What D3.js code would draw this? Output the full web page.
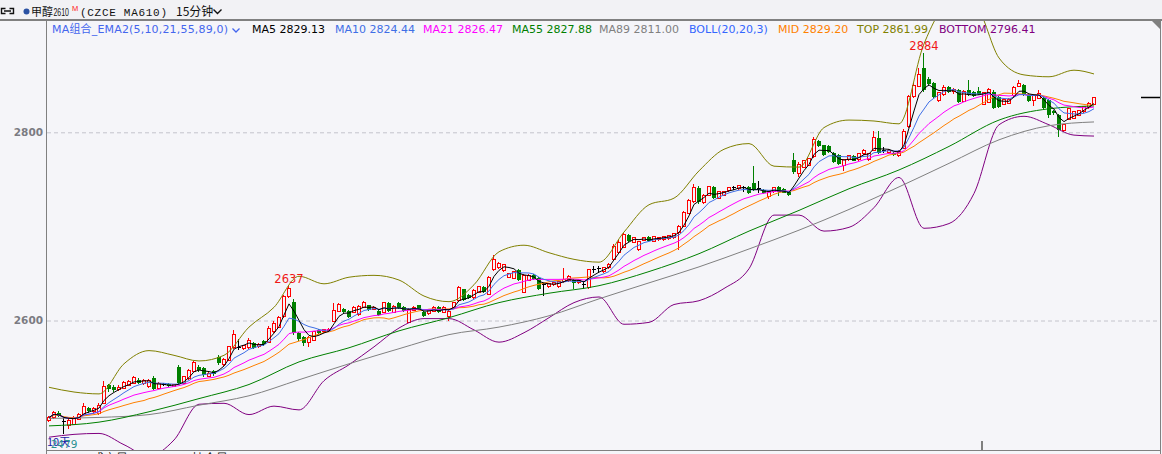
<!DOCTYPE html>
<html>
<head>
<meta charset="utf-8">
<script src="https://cdn.jsdelivr.net/npm/d3@7"></script>
<style>
  html, body { margin: 0; padding: 0; background: #f5f5f9; overflow: hidden; }
  svg { display: block; }
</style>
</head>
<body>
<script>
(function(){

  // 甲醇2610 15分钟K线: 开 高 低 收 (每行10根)
  var opens = [
    2494,2497,2502,2493,2488,2490,2495,2500,2507,2503,
    2501,2512,2531,2529,2527,2528,2531,2533,2537,2533,
    2530,2539,2528,2532,2533,2530,2551,2533,2538,2546,
    2551,2550,2541,2546,2561,2553,2558,2571,2571,2570,
    2571,2576,2572,2578,2577,2588,2593,2604,2625,2620,
    2587,2582,2577,2579,2590,2588,2589,2599,2610,2612,
    2610,2609,2606,2614,2616,2612,2610,2609,2619,2609,
    2619,2614,2598,2611,2616,2609,2607,2610,2614,2609,
    2604,2614,2621,2633,2627,2624,2630,2636,2628,2654,
    2656,2653,2646,2645,2654,2630,2643,2648,2645,2638,
    2636,2638,2636,2641,2642,2643,2640,2638,2635,2654,
    2655,2652,2656,2665,2672,2678,2691,2683,2675,2685,
    2689,2684,2686,2686,2687,2688,2694,2700,2714,2726,
    2741,2725,2733,2742,2730,2733,2738,2741,2740,2741,
    2742,2746,2740,2739,2732,2737,2742,2740,2737,2771,
    2756,2763,2765,2774,2791,2786,2785,2778,2776,2765,
    2771,2775,2771,2777,2771,2781,2794,2781,2779,2778,
    2775,2783,2806,2838,2849,2868,2857,2852,2834,2840,
    2848,2843,2845,2833,2845,2843,2844,2830,2832,2843,
    2838,2830,2831,2839,2849,2850,2840,2834,2836,2836,
    2834,2823,2818,2802,2814,2815,2818,2822,2826,2830
  ];
  var highs = [
    2499,2504,2504,2496,2495,2498,2502,2512,2508,2508,
    2512,2536,2533,2531,2531,2536,2537,2541,2539,2538,
    2538,2541,2535,2534,2534,2533,2553,2541,2548,2557,
    2553,2551,2546,2547,2563,2560,2573,2590,2580,2574,
    2581,2577,2576,2579,2594,2599,2605,2627,2637,2623,
    2588,2583,2583,2589,2591,2591,2592,2619,2619,2613,
    2611,2615,2616,2621,2617,2615,2611,2620,2620,2616,
    2620,2615,2613,2615,2617,2610,2612,2615,2615,2615,
    2611,2620,2637,2634,2628,2633,2637,2637,2647,2670,
    2662,2660,2651,2653,2655,2649,2649,2649,2646,2640,
    2640,2641,2642,2656,2648,2644,2643,2641,2655,2658,
    2658,2657,2661,2681,2686,2693,2692,2689,2685,2689,
    2690,2690,2689,2690,2691,2693,2701,2716,2729,2745,
    2743,2734,2743,2743,2738,2738,2742,2743,2744,2743,
    2743,2764,2748,2740,2738,2742,2743,2741,2738,2778,
    2768,2771,2773,2795,2792,2787,2786,2779,2777,2772,
    2776,2776,2778,2782,2778,2801,2801,2784,2782,2779,
    2781,2803,2840,2852,2868,2884,2859,2853,2843,2850,
    2849,2847,2846,2845,2856,2844,2848,2843,2847,2845,
    2839,2836,2836,2849,2856,2851,2841,2840,2845,2837,
    2835,2824,2819,2809,2826,2823,2824,2828,2832,2838
  ];
  var lows = [
    2492,2495,2497,2479,2485,2489,2494,2499,2502,2501,
    2500,2511,2524,2524,2525,2527,2530,2532,2532,2531,
    2528,2526,2527,2530,2529,2529,2532,2531,2537,2545,
    2545,2540,2540,2541,2553,2552,2557,2570,2569,2569,
    2570,2570,2571,2573,2576,2587,2592,2603,2624,2585,
    2578,2573,2572,2578,2586,2587,2588,2598,2609,2608,
    2603,2608,2605,2613,2610,2611,2605,2608,2609,2608,
    2612,2609,2597,2610,2611,2604,2606,2609,2608,2608,
    2600,2613,2620,2621,2623,2623,2629,2629,2627,2653,
    2655,2652,2645,2644,2642,2629,2642,2643,2632,2626,
    2635,2637,2635,2640,2641,2633,2639,2634,2634,2651,
    2651,2651,2655,2664,2671,2677,2683,2682,2674,2684,
    2683,2683,2685,2685,2686,2687,2675,2699,2713,2725,
    2724,2724,2732,2729,2729,2732,2737,2739,2739,2737,
    2734,2738,2736,2734,2729,2736,2732,2735,2732,2756,
    2753,2762,2764,2773,2784,2775,2778,2767,2765,2759,
    2770,2769,2770,2776,2770,2780,2777,2778,2777,2775,
    2774,2782,2805,2836,2848,2843,2849,2836,2832,2839,
    2842,2841,2831,2832,2839,2838,2840,2829,2831,2825,
    2826,2829,2830,2838,2848,2839,2832,2828,2835,2825,
    2815,2818,2795,2800,2813,2814,2817,2821,2825,2829
  ];
  var closes = [
    2497,2502,2499,2493,2494,2496,2500,2509,2504,2506,
    2510,2530,2527,2526,2529,2534,2535,2539,2534,2536,
    2536,2527,2533,2532,2530,2532,2534,2540,2547,2555,
    2547,2542,2544,2543,2555,2559,2572,2585,2571,2573,
    2579,2571,2575,2575,2592,2597,2603,2625,2634,2587,
    2580,2576,2582,2588,2587,2590,2590,2611,2617,2609,
    2604,2614,2615,2619,2611,2614,2606,2619,2610,2615,
    2613,2610,2612,2614,2612,2605,2611,2614,2609,2614,
    2610,2619,2635,2622,2624,2632,2636,2630,2646,2665,
    2661,2659,2650,2652,2643,2648,2648,2644,2633,2638,
    2639,2640,2641,2644,2647,2640,2642,2638,2654,2654,
    2655,2656,2660,2679,2683,2691,2684,2688,2684,2688,
    2684,2689,2688,2689,2690,2692,2700,2715,2727,2741,
    2726,2733,2742,2730,2737,2737,2741,2741,2743,2741,
    2735,2739,2740,2735,2737,2741,2737,2736,2733,2758,
    2766,2770,2772,2792,2785,2776,2779,2768,2766,2771,
    2775,2770,2777,2781,2777,2794,2778,2781,2781,2776,
    2780,2801,2838,2850,2861,2845,2851,2838,2842,2848,
    2843,2845,2832,2843,2840,2839,2841,2842,2846,2826,
    2827,2835,2835,2848,2852,2840,2833,2839,2841,2826,
    2818,2820,2802,2808,2825,2822,2823,2827,2831,2837
  ];

  var maPeriods = [5, 10, 21, 55, 89];

  // 慢均线读数 (每10根)
  var slowIdx = [0,10,20,30,40,50,60,70,80,90,100,110,120,130,140,150,160,170,180,190,200,209];
  var ma55 = [2488,2492,2503,2517,2532,2556,2571,2589,2603,2619,2629,2637,2652,2671,2695,2717,2740,2760,2785,2813,2825,2828];
  var ma89 = [2496,2497,2500,2510,2520,2537,2554,2570,2585,2593,2605,2623,2640,2657,2676,2696,2718,2742,2767,2792,2807,2811];

  // 布林上下轨读数 (每5根)
  var bandIdx = [0,5,10,15,20,25,30,35,40,45,50,55,60,65,70,75,80,85,90,95,100,105,110,115,120,125,130,135,140,145,150,155,160,165,170,175,180,185,190,195,200,205,209];
  var bollTop = [2529,2524,2522,2554,2568,2563,2557,2563,2593,2614,2647,2639,2646,2648,2643,2626,2620,2638,2673,2680,2672,2665,2662,2694,2723,2730,2759,2782,2788,2764,2763,2805,2813,2812,2809,2894,2935,2935,2879,2861,2859,2866,2862];
  var bollBottom = [2476,2479,2480,2468,2456,2473,2511,2512,2500,2509,2505,2536,2553,2572,2592,2602,2602,2590,2577,2587,2603,2619,2625,2596,2598,2617,2621,2634,2655,2712,2712,2695,2699,2720,2752,2698,2703,2735,2808,2817,2808,2797,2796];

  var yTicks = [2600, 2800];
  var peakMarks = [48, 175];
  var dayBreaks = [186];

  var maNames = ["MA5", "MA10", "MA21", "MA55", "MA89"];
  var maValues = ["2829.13", "2824.44", "2826.47", "2827.88", "2811.00"];
  var bollNames = ["MID", "TOP", "BOTTOM"];
  var bollValues = ["2829.20", "2861.99", "2796.41"];

  const W = 1162, H = 454;
  const BG = "#f5f5f9";
  const UP = "#ff0000", DOWN = "#008000", FLAT = "#000000";
  const FRAME = "#808080";
  const MA_COLORS = ["#000000", "#3f6fe6", "#ff00ff", "#008000", "#808080"];
  const BOLL_COLORS = ["#ff8000", "#808000", "#800080"];
  const MA_X = [252, 335, 423, 512, 599];
  const BOLL_X = [778, 857, 939];

  var x = d3.scaleBand().domain(d3.range(closes.length)).range([46.5, 1096.5]);
  var cx = function(i){ return x(i) + x.bandwidth() / 2; };
  var y = d3.scaleLinear().domain([2600, 2800]).range([320.5, 132.3]);

  var svg = d3.select("body").append("svg")
    .attr("width", W).attr("height", H)
    .style("font-family", "'DejaVu Sans', 'Noto Sans CJK SC', sans-serif");

  svg.append("rect").attr("width", W).attr("height", 20).attr("fill", "#f2f2f5");

  svg.append("defs").append("clipPath").attr("id", "plot")
    .append("rect").attr("x", 47).attr("y", 21).attr("width", 1113).attr("height", 429);

  // 网格 + 纵轴
  var grid = svg.append("g").attr("transform", "translate(47,0)")
    .call(d3.axisLeft(y).tickValues(yTicks).tickSize(-1113).tickFormat(""));
  grid.select(".domain").remove();
  grid.selectAll(".tick line")
    .attr("stroke", "#c4c4cc").attr("stroke-dasharray", "4,3");

  var axis = svg.append("g").attr("transform", "translate(43,0)")
    .call(d3.axisLeft(y).tickValues(yTicks).tickSize(0).tickPadding(0).tickFormat(d3.format("d")));
  axis.select(".domain").remove();
  axis.selectAll(".tick text")
    .attr("fill", "#7b7b82").attr("font-size", "10.5px").attr("font-weight", "bold")
    .attr("font-family", "'DejaVu Sans', sans-serif");

  var plot = svg.append("g").attr("clip-path", "url(#plot)");

  // K线
  var candles = plot.append("g").attr("shape-rendering", "crispEdges")
    .selectAll("g").data(d3.range(closes.length)).enter().append("g");

  candles.append("line")
    .attr("x1", function(i){ return cx(i) - 0.5; })
    .attr("x2", function(i){ return cx(i) - 0.5; })
    .attr("y1", function(i){ return y(highs[i]); })
    .attr("y2", function(i){ return y(lows[i]); })
    .attr("stroke", function(i){ return closes[i] > opens[i] ? UP : closes[i] < opens[i] ? DOWN : FLAT; });

  candles.filter(function(i){ return closes[i] > opens[i]; }).append("rect")
    .attr("x", function(i){ return cx(i) - 1.5; })
    .attr("width", 3)
    .attr("y", function(i){ return y(closes[i]); })
    .attr("height", function(i){ return Math.max(1, y(opens[i]) - y(closes[i])); })
    .attr("fill", BG).attr("stroke", UP);

  candles.filter(function(i){ return closes[i] < opens[i]; }).append("rect")
    .attr("x", function(i){ return cx(i) - 2; })
    .attr("width", 4)
    .attr("y", function(i){ return y(opens[i]); })
    .attr("height", function(i){ return Math.max(1, y(closes[i]) - y(opens[i])); })
    .attr("fill", DOWN);

  candles.filter(function(i){ return closes[i] === opens[i]; }).append("line")
    .attr("x1", function(i){ return cx(i) - 2.5; })
    .attr("x2", function(i){ return cx(i) + 2; })
    .attr("y1", function(i){ return y(closes[i]); })
    .attr("y2", function(i){ return y(closes[i]); })
    .attr("stroke", FLAT);

  // 指标线: 加权均线 + 布林中轨
  function wma(vals, n){
    return vals.map(function(v, i){
      var s = 0, w = 0;
      for (var j = Math.max(0, i - n + 1), k = 1; j <= i; j++, k++){ s += vals[j] * k; w += k; }
      return s / w;
    });
  }
  var mid = closes.map(function(c, i){ return d3.mean(closes.slice(Math.max(0, i - 19), i + 1)); });

  var barLine = d3.line().x(function(d, i){ return cx(i); }).y(function(d){ return y(d); });
  var sampledLine = function(idx){
    return d3.line().curve(d3.curveMonotoneX)
      .x(function(d, k){ return cx(idx[k]); }).y(function(d){ return y(d); });
  };

  var lines = plot.append("g").attr("fill", "none").attr("stroke-width", 1);
  lines.append("path").attr("d", sampledLine(bandIdx)(bollTop)).attr("stroke", BOLL_COLORS[1]);
  lines.append("path").attr("d", sampledLine(bandIdx)(bollBottom)).attr("stroke", BOLL_COLORS[2]);
  lines.append("path").attr("d", sampledLine(slowIdx)(ma89)).attr("stroke", MA_COLORS[4]);
  lines.append("path").attr("d", sampledLine(slowIdx)(ma55)).attr("stroke", MA_COLORS[3]);
  lines.append("path").attr("d", barLine(mid)).attr("stroke", BOLL_COLORS[0]);
  [2, 1, 0].forEach(function(k){
    lines.append("path").attr("d", barLine(wma(closes, maPeriods[k])))
      .attr("stroke", MA_COLORS[k]);
  });

  // 最高/最低标注
  var loIdx = d3.minIndex(lows);
  svg.selectAll("text.hi").data(peakMarks).enter().append("text")
    .attr("x", function(i){ return cx(i); })
    .attr("y", function(i){ return y(highs[i]) - 3; })
    .attr("text-anchor", "middle").attr("font-size", "11.5px").attr("fill", "#f01818")
    .text(function(i){ return highs[i]; });
  svg.append("text").attr("x", 47).attr("y", 446)
    .attr("font-size", "11px").attr("fill", "#1c1ca8")
    .attr("font-family", "'Noto Sans CJK SC', 'DejaVu Sans', sans-serif").text("10天");
  svg.append("text").attr("x", cx(loIdx)).attr("y", y(lows[loIdx]) + 14)
    .attr("text-anchor", "middle").attr("font-size", "10.5px").attr("fill", "#2a9090")
    .text(lows[loIdx]);

  // 框线
  var frame = svg.append("g").attr("stroke", FRAME).attr("shape-rendering", "crispEdges");
  frame.append("line").attr("x1", 0).attr("x2", W).attr("y1", 20).attr("y2", 20).attr("stroke-width", 2);
  frame.append("line").attr("x1", 46.5).attr("x2", 46.5).attr("y1", 21).attr("y2", H).attr("stroke-width", 1.5);
  frame.append("line").attr("x1", 1160.5).attr("x2", 1160.5).attr("y1", 21).attr("y2", H).attr("stroke-width", 1.5);
  frame.append("line").attr("x1", 46).attr("x2", 1161).attr("y1", 450.5).attr("y2", 450.5).attr("stroke-width", 1.5);
  frame.selectAll("line.day").data(dayBreaks).enter().append("line")
    .attr("x1", function(i){ return cx(i) + 3; }).attr("x2", function(i){ return cx(i) + 3; })
    .attr("y1", 441).attr("y2", 450).attr("stroke-width", 1.5);
  svg.append("path").attr("d", "M1152,21L1161,21L1161,30Z").attr("fill", FRAME);

  // 最新价标记
  svg.append("line")
    .attr("x1", 1141).attr("x2", 1160)
    .attr("y1", Math.round(y(closes[closes.length - 1])) + 0.5)
    .attr("y2", Math.round(y(closes[closes.length - 1])) + 0.5)
    .attr("stroke", "#000").attr("stroke-width", 1.5);

  // 标题栏
  var head = svg.append("g");
  head.append("path").attr("d", "M5.5,8.5H1.5V13.5H5.5M9.5,8.5H13.5V13.5H9.5M4,11H11")
    .attr("fill", "none").attr("stroke", "#111").attr("stroke-width", 1.4);
  head.append("circle").attr("cx", 26.5).attr("cy", 11.5).attr("r", 3).attr("fill", "#2b52a3");
  head.append("text").attr("x", 31).attr("y", 16).attr("font-size", "11px")
    .attr("font-family", "'Noto Sans CJK SC', sans-serif").attr("fill", "#111").text("甲醇");
  head.append("text").attr("x", 53.5).attr("y", 16).attr("font-size", "10px")
    .attr("font-family", "'Liberation Sans', sans-serif").attr("fill", "#111")
    .attr("textLength", 15.5).attr("lengthAdjust", "spacingAndGlyphs").text("2610");
  head.append("text").attr("x", 72).attr("y", 10.5).attr("font-size", "7.5px")
    .attr("font-family", "'Liberation Sans', sans-serif").attr("fill", "#ff2020").text("M");
  head.append("text").attr("x", 80).attr("y", 16).attr("font-size", "11px")
    .attr("font-family", "'Liberation Mono', monospace").attr("fill", "#111")
    .attr("textLength", 87).text("(CZCE MA610)");
  head.append("text").attr("x", 176).attr("y", 16).attr("font-size", "12px")
    .attr("font-family", "'Noto Sans CJK SC', sans-serif").attr("fill", "#111").text("15分钟");
  head.append("path").attr("d", "M213.5,9.5L217.5,13.5L221.5,9.5")
    .attr("fill", "none").attr("stroke", "#111").attr("stroke-width", 1.4);

  // 指标图例
  var legend = svg.append("g").attr("font-size", "11px");
  legend.append("text").attr("x", 52).attr("y", 33).attr("fill", "#4466ee")
    .attr("textLength", 176).text("MA组合_EMA2(" + maPeriods.concat([0]).join(",") + ")");
  legend.append("path").attr("d", "M232.5,28.5L236,32L239.5,28.5")
    .attr("fill", "none").attr("stroke", "#4466ee").attr("stroke-width", 1.3);
  legend.selectAll("text.ma").data(maNames).enter().append("text")
    .attr("x", function(d, k){ return MA_X[k]; }).attr("y", 33)
    .attr("fill", function(d, k){ return MA_COLORS[k]; })
    .text(function(d, k){ return d + " " + maValues[k]; });
  legend.append("text").attr("x", 689).attr("y", 33).attr("fill", "#3366ff").text("BOLL(20,20,3)");
  legend.selectAll("text.boll").data(bollNames).enter().append("text")
    .attr("x", function(d, k){ return BOLL_X[k]; }).attr("y", 33)
    .attr("fill", function(d, k){ return BOLL_COLORS[k]; })
    .text(function(d, k){ return d + " " + bollValues[k]; });

  // 下方副图标题 (被截断)
  svg.selectAll("text.sub").data(["成交量", "持仓量"]).enter().append("text")
    .attr("x", function(d, k){ return 92 + k * 100; }).attr("y", 463)
    .attr("font-size", "12px").attr("fill", "#222")
    .attr("font-family", "'Noto Sans CJK SC', sans-serif").text(function(d){ return d; });

})();
</script>
</body>
</html>
